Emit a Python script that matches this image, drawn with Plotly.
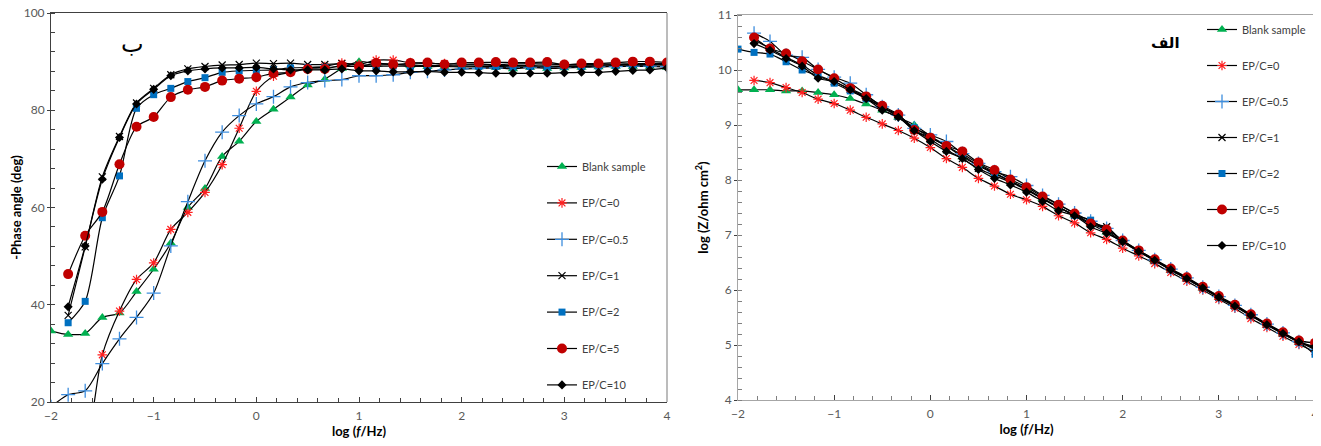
import plotly.graph_objects as go

# log(f/Hz), six points per decade
log_f = [-2.0, -1.833, -1.667, -1.5, -1.333, -1.167, -1.0, -0.833, -0.667, -0.5, -0.333, -0.167,
         0.0, 0.167, 0.333, 0.5, 0.667, 0.833, 1.0, 1.167, 1.333, 1.5, 1.667, 1.833,
         2.0, 2.167, 2.333, 2.5, 2.667, 2.833, 3.0, 3.167, 3.333, 3.5, 3.667, 3.833, 4.0]

names = ['Blank sample', 'EP/C=0', 'EP/C=0.5', 'EP/C=1', 'EP/C=2', 'EP/C=5', 'EP/C=10']

# -phase angle (deg), left panel
blank_ph = [34.6, 33.9, 34.1, 37.4, 38.3, 42.7, 47.3, 52.7, 60.0, 63.9, 70.5,
            73.6, 77.7, 80.2, 82.7, 85.2, 86.4, 88.6, 90.0, 89.6, 89.5,
            89.2, 89.0, 89.0, 88.9, 88.9, 88.8, 88.5, 88.8, 88.6, 88.7,
            88.8, 88.9, 89.0, 89.0, 89.0, 88.8]
ep0_ph = [4.0, 7.0, 11.0, 29.7, 38.7, 45.2, 48.6, 55.5, 59.0, 63.1, 68.8,
          76.3, 83.9, 87.0, 87.8, 88.7, 89.0, 89.7, 89.4, 90.3, 90.3,
          89.8, 89.6, 89.6, 89.5, 89.5, 89.4, 89.5, 89.6, 89.5, 89.4,
          89.4, 89.5, 89.5, 89.6, 89.6, 89.6]
ep05_ph = [19.0, 21.5, 22.3, 27.9, 33.0, 37.4, 42.4, 52.1, 61.2, 69.6, 75.5,
           78.9, 81.3, 82.8, 84.8, 85.7, 86.1, 86.3, 87.1, 87.1, 87.3,
           87.8, 88.0, 88.3, 88.5, 88.6, 88.7, 88.8, 88.8, 88.9, 88.9,
           89.0, 89.0, 89.0, 89.1, 89.1, 89.0]
ep1_ph = [None, 37.8, 51.9, 66.3, 74.6, 81.5, 84.5, 87.3, 88.5, 89.0, 89.3,
          89.4, 89.7, 89.6, 89.7, 89.4, 89.4, 89.6, 89.3, 89.3, 89.4,
          89.3, 89.2, 89.2, 89.3, 89.3, 89.2, 89.2, 89.2, 89.3, 89.3,
          89.3, 89.3, 89.4, 89.4, 89.4, 89.3]
ep2_ph = [None, 36.3, 40.7, 57.9, 66.5, 80.4, 83.2, 84.5, 85.9, 86.7, 87.8,
          88.1, 88.2, 88.3, 88.7, 88.8, 88.8, 89.0, 89.0, 89.0, 89.1,
          89.0, 89.0, 89.0, 89.1, 89.0, 89.0, 88.9, 89.0, 88.9, 89.0,
          89.0, 89.1, 89.2, 89.3, 89.4, 89.4]
ep5_ph = [None, 46.3, 54.2, 59.1, 68.9, 76.6, 78.6, 82.7, 84.2, 84.8, 86.1,
          86.5, 86.8, 87.6, 87.8, 88.5, 88.5, 89.2, 89.0, 89.7, 89.4,
          89.7, 89.8, 89.4, 89.8, 89.8, 89.9, 89.8, 89.8, 89.9, 89.4,
          89.6, 89.6, 89.8, 90.0, 90.0, 89.8]
ep10_ph = [None, 39.6, 52.1, 65.8, 74.4, 81.3, 84.3, 87.1, 88.1, 88.5, 88.7,
           88.7, 88.8, 88.5, 88.3, 88.3, 88.3, 88.5, 88.1, 88.1, 87.9,
           87.9, 88.0, 87.8, 87.8, 87.7, 87.6, 87.6, 87.6, 87.6, 87.7,
           87.8, 87.8, 88.0, 88.2, 88.3, 88.7]

# log(Z/ohm cm2), right panel
blank_z = [9.64, 9.64, 9.64, 9.62, 9.62, 9.59, 9.55, 9.48, 9.38, 9.27, 9.14,
           9.00, 8.80, 8.62, 8.42, 8.27, 8.13, 7.98, 7.84, 7.66, 7.50,
           7.36, 7.20, 7.05, 6.87, 6.70, 6.53, 6.36, 6.20, 6.03, 5.86,
           5.70, 5.53, 5.36, 5.20, 5.05, 4.95]
ep0_z = [None, 9.81, 9.77, 9.68, 9.59, 9.47, 9.39, 9.27, 9.14, 9.02, 8.90,
         8.76, 8.59, 8.39, 8.23, 8.03, 7.89, 7.74, 7.64, 7.52, 7.35,
         7.22, 7.04, 6.92, 6.76, 6.62, 6.48, 6.32, 6.16, 6.00, 5.83,
         5.67, 5.48, 5.32, 5.16, 5.01, 4.88]
ep05_z = [None, 10.67, 10.52, 10.27, 10.23, 10.01, 9.87, 9.76, 9.55, 9.33, 9.18,
          8.94, 8.82, 8.70, 8.48, 8.30, 8.15, 8.06, 7.90, 7.72, 7.56,
          7.40, 7.25, 7.12, 6.90, 6.72, 6.55, 6.38, 6.22, 6.05, 5.88,
          5.72, 5.55, 5.38, 5.22, 5.06, 4.92]
ep1_z = [None, 10.55, 10.39, 10.23, 10.09, 9.91, 9.79, 9.65, 9.50, 9.32, 9.15,
         8.90, 8.74, 8.55, 8.39, 8.21, 8.08, 7.96, 7.82, 7.66, 7.50,
         7.36, 7.20, 7.15, 6.88, 6.71, 6.54, 6.37, 6.21, 6.04, 5.87,
         5.71, 5.54, 5.37, 5.21, 5.06, 4.95]
ep2_z = [10.38, 10.32, 10.29, 10.15, 10.00, 9.89, 9.76, 9.62, 9.48, 9.32, 9.16,
         8.95, 8.78, 8.62, 8.45, 8.26, 8.12, 7.98, 7.83, 7.67, 7.51,
         7.36, 7.27, 7.08, 6.88, 6.71, 6.54, 6.37, 6.21, 6.04, 5.87,
         5.71, 5.54, 5.37, 5.21, 5.05, 4.83]
ep5_z = [None, 10.59, 10.39, 10.30, 10.16, 10.01, 9.85, 9.67, 9.52, 9.35, 9.19,
         8.91, 8.77, 8.62, 8.52, 8.32, 8.18, 8.01, 7.87, 7.70, 7.55,
         7.39, 7.21, 7.10, 6.90, 6.72, 6.56, 6.39, 6.23, 6.06, 5.89,
         5.73, 5.56, 5.39, 5.23, 5.08, 5.04]
ep10_z = [None, 10.48, 10.36, 10.21, 10.07, 9.85, 9.79, 9.64, 9.48, 9.27, 9.14,
          8.90, 8.70, 8.52, 8.39, 8.19, 8.03, 7.91, 7.78, 7.61, 7.44,
          7.35, 7.15, 7.03, 6.88, 6.70, 6.54, 6.37, 6.21, 6.04, 5.87,
          5.71, 5.54, 5.37, 5.21, 5.06, 4.97]

# marker look per series (Excel style)
markers = [
    dict(symbol='triangle-up', size=9, color='#00B050'),
    dict(symbol='asterisk-open', size=8, color='#FF2020', line=dict(color='#FF2020', width=1.2)),
    dict(symbol='cross-thin-open', size=10, color='#3E8EDE', line=dict(color='#3E8EDE', width=1.3)),
    dict(symbol='x-thin-open', size=7, color='#000000', line=dict(color='#000000', width=1.2)),
    dict(symbol='square', size=7, color='#0070C0'),
    dict(symbol='circle', size=10, color='#C00000'),
    dict(symbol='diamond', size=7, color='#000000'),
]

phase = [blank_ph, ep0_ph, ep05_ph, ep1_ph, ep2_ph, ep5_ph, ep10_ph]
imped = [blank_z, ep0_z, ep05_z, ep1_z, ep2_z, ep5_z, ep10_z]

# the page body has an 8px margin, so the figure is drawn 8px smaller
# and page positions are converted to paper fractions
OFF = 8
W, H = 1321 - OFF, 446 - OFF


def px(x):
    return (x - OFF) / W


def py(y):
    return 1 - (y - OFF) / H


tickfont = dict(family='Lato', size=12, color='#595959')
titlefont = dict(family='Lato', size=13, color='#000000')

fig = go.Figure()
line = dict(color='#000000', width=1.2, shape='spline', smoothing=0.8)
for i, name in enumerate(names):
    fig.add_trace(go.Scatter(x=log_f, y=phase[i], name=name, mode='lines+markers',
                             line=line, marker=markers[i], xaxis='x', yaxis='y',
                             legend='legend', legendgroup='ph' + str(i)))
for i, name in enumerate(names):
    fig.add_trace(go.Scatter(x=log_f, y=imped[i], name=name, mode='lines+markers',
                             line=line, marker=markers[i], xaxis='x2', yaxis='y2',
                             legend='legend2', legendgroup='z' + str(i)))

ax = dict(showgrid=False, zeroline=False, showline=True, ticks='outside', ticklen=3,
          tickfont=tickfont, title_font=titlefont, automargin=False,
          ticklabeloverflow='allow')
legfont = dict(family='Lato', size=11, color='#404040')

fig.update_layout(
    width=W, height=H,
    margin=dict(l=0, r=0, t=0, b=0),
    paper_bgcolor='white', plot_bgcolor='white',
    xaxis=dict(ax, domain=[px(51), px(667)], range=[-2, 4], dtick=1, anchor='y',
               linecolor='#404040', tickcolor='#404040', mirror=True,
               ticks='inside', ticklen=5, ticklabelstandoff=3,
               minor=dict(dtick=0.2, ticks='inside', ticklen=4, tickcolor='#404040'),
               title=dict(text='<b>log (<i>f</i>/Hz)</b>', standoff=0)),
    yaxis=dict(ax, domain=[py(402), py(13)], range=[20, 100], dtick=20, anchor='x',
               linecolor='#404040', tickcolor='#404040',
               minor=dict(dtick=4, ticks='inside', ticklen=4, tickcolor='#404040'),
               title=dict(text='<b>-Phase angle (deg)</b>', standoff=0)),
    xaxis2=dict(ax, domain=[px(738), px(1315)], range=[-2, 4], dtick=1, anchor='y2',
                linecolor='#A6A6A6', tickcolor='#404040', mirror=True,
                ticks='inside', ticklen=5, ticklabelstandoff=3,
                minor=dict(dtick=0.2, ticks='inside', ticklen=4, tickcolor='#808080'),
                title=dict(text='<b>log (<i>f</i>/Hz)</b>', standoff=0)),
    yaxis2=dict(ax, domain=[py(400), py(15)], range=[4, 11], dtick=1, anchor='x2',
                linecolor='#A6A6A6', tickcolor='#404040', mirror=True,
                minor=dict(dtick=0.2, ticks='inside', ticklen=4, tickcolor='#808080'),
                title=dict(text='<b>log (Z/ohm cm<sup>2</sup>)</b>', standoff=6)),
    legend=dict(x=px(542), y=py(152), xanchor='left', yanchor='top',
                tracegroupgap=17.4, bgcolor='rgba(0,0,0,0)', font=legfont),
    legend2=dict(x=px(1202), y=py(15), xanchor='left', yanchor='top',
                 tracegroupgap=17, bgcolor='rgba(0,0,0,0)', font=legfont),
    annotations=[
        dict(text='ب', x=px(132), y=py(44), xref='paper', yref='paper',
             xanchor='center', yanchor='middle',
             showarrow=False, font=dict(family='DejaVu Sans', size=24, color='#000000')),
        dict(text='<b>الف</b>', x=px(1165), y=py(43), xref='paper', yref='paper',
             xanchor='center', yanchor='middle',
             showarrow=False, font=dict(family='DejaVu Sans', size=15, color='#000000')),
    ],
    # right edge of the left panel is a lighter grey
    shapes=[dict(type='line', xref='x domain', yref='y domain', x0=1, x1=1, y0=0, y1=1,
                 line=dict(color='#A6A6A6', width=1.5))],
)

fig.write_html("out.html")
